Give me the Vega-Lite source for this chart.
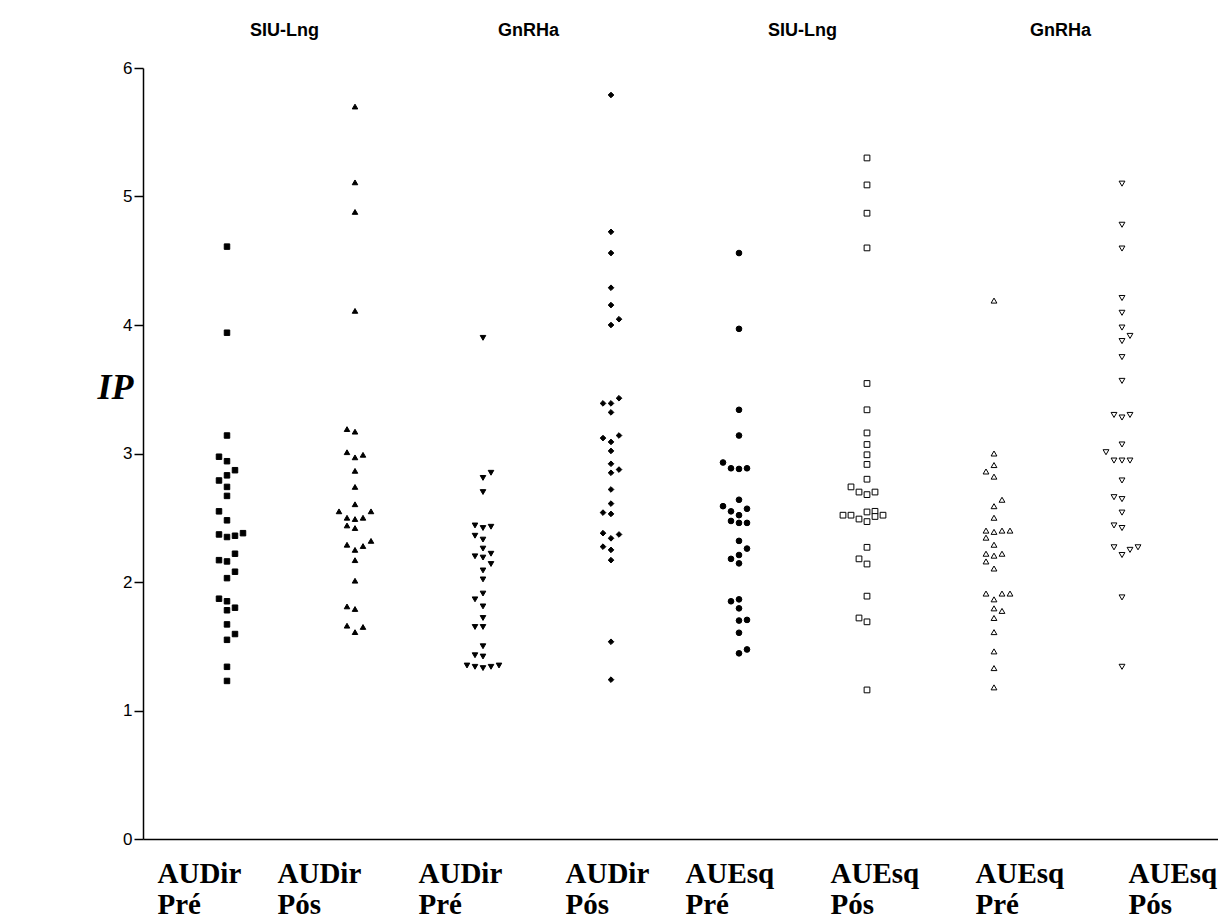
{
  "$schema": "https://vega.github.io/schema/vega-lite/v6.json",
  "autosize": "none",
  "width": 1075,
  "height": 771,
  "padding": {"left": 143, "top": 68, "right": 0, "bottom": 84},
  "background": "white",
  "config": {"view": {"stroke": null}},
  "data": {"values": [
    {"g":"AUDir Pré SIU","x":84,"ip":4.61},{"g":"AUDir Pré SIU","x":84,"ip":3.94},{"g":"AUDir Pré SIU","x":84,"ip":3.14},{"g":"AUDir Pré SIU","x":76,"ip":2.975},{"g":"AUDir Pré SIU","x":84,"ip":2.94},{"g":"AUDir Pré SIU","x":92,"ip":2.87},{"g":"AUDir Pré SIU","x":84,"ip":2.83},{"g":"AUDir Pré SIU","x":76,"ip":2.79},{"g":"AUDir Pré SIU","x":84,"ip":2.74},{"g":"AUDir Pré SIU","x":84,"ip":2.67},{"g":"AUDir Pré SIU","x":76,"ip":2.55},{"g":"AUDir Pré SIU","x":84,"ip":2.48},{"g":"AUDir Pré SIU","x":76,"ip":2.37},{"g":"AUDir Pré SIU","x":84,"ip":2.35},{"g":"AUDir Pré SIU","x":92,"ip":2.36},{"g":"AUDir Pré SIU","x":100,"ip":2.38},{"g":"AUDir Pré SIU","x":92,"ip":2.22},{"g":"AUDir Pré SIU","x":76,"ip":2.17},{"g":"AUDir Pré SIU","x":84,"ip":2.16},{"g":"AUDir Pré SIU","x":92,"ip":2.08},{"g":"AUDir Pré SIU","x":84,"ip":2.03},{"g":"AUDir Pré SIU","x":76,"ip":1.87},{"g":"AUDir Pré SIU","x":84,"ip":1.85},{"g":"AUDir Pré SIU","x":84,"ip":1.78},{"g":"AUDir Pré SIU","x":92,"ip":1.80},{"g":"AUDir Pré SIU","x":84,"ip":1.67},{"g":"AUDir Pré SIU","x":92,"ip":1.595},{"g":"AUDir Pré SIU","x":84,"ip":1.55},{"g":"AUDir Pré SIU","x":84,"ip":1.34},{"g":"AUDir Pré SIU","x":84,"ip":1.23},

    {"g":"AUDir Pós SIU","x":212,"ip":5.70},{"g":"AUDir Pós SIU","x":212,"ip":5.11},{"g":"AUDir Pós SIU","x":212,"ip":4.88},{"g":"AUDir Pós SIU","x":212,"ip":4.11},{"g":"AUDir Pós SIU","x":204,"ip":3.19},{"g":"AUDir Pós SIU","x":212,"ip":3.17},{"g":"AUDir Pós SIU","x":204,"ip":3.01},{"g":"AUDir Pós SIU","x":212,"ip":2.97},{"g":"AUDir Pós SIU","x":220,"ip":2.99},{"g":"AUDir Pós SIU","x":212,"ip":2.865},{"g":"AUDir Pós SIU","x":212,"ip":2.74},{"g":"AUDir Pós SIU","x":212,"ip":2.605},{"g":"AUDir Pós SIU","x":196,"ip":2.55},{"g":"AUDir Pós SIU","x":204,"ip":2.50},{"g":"AUDir Pós SIU","x":212,"ip":2.49},{"g":"AUDir Pós SIU","x":220,"ip":2.50},{"g":"AUDir Pós SIU","x":228,"ip":2.55},{"g":"AUDir Pós SIU","x":204,"ip":2.44},{"g":"AUDir Pós SIU","x":212,"ip":2.42},{"g":"AUDir Pós SIU","x":204,"ip":2.29},{"g":"AUDir Pós SIU","x":212,"ip":2.25},{"g":"AUDir Pós SIU","x":220,"ip":2.28},{"g":"AUDir Pós SIU","x":228,"ip":2.32},{"g":"AUDir Pós SIU","x":212,"ip":2.17},{"g":"AUDir Pós SIU","x":212,"ip":2.01},{"g":"AUDir Pós SIU","x":204,"ip":1.81},{"g":"AUDir Pós SIU","x":212,"ip":1.79},{"g":"AUDir Pós SIU","x":204,"ip":1.66},{"g":"AUDir Pós SIU","x":212,"ip":1.61},{"g":"AUDir Pós SIU","x":220,"ip":1.65},

    {"g":"AUDir Pré GnRHa","x":340,"ip":3.90},{"g":"AUDir Pré GnRHa","x":340,"ip":2.81},{"g":"AUDir Pré GnRHa","x":348,"ip":2.85},{"g":"AUDir Pré GnRHa","x":340,"ip":2.70},{"g":"AUDir Pré GnRHa","x":332,"ip":2.44},{"g":"AUDir Pré GnRHa","x":340,"ip":2.42},{"g":"AUDir Pré GnRHa","x":348,"ip":2.43},{"g":"AUDir Pré GnRHa","x":332,"ip":2.36},{"g":"AUDir Pré GnRHa","x":340,"ip":2.33},{"g":"AUDir Pré GnRHa","x":340,"ip":2.26},{"g":"AUDir Pré GnRHa","x":332,"ip":2.20},{"g":"AUDir Pré GnRHa","x":340,"ip":2.19},{"g":"AUDir Pré GnRHa","x":348,"ip":2.22},{"g":"AUDir Pré GnRHa","x":348,"ip":2.14},{"g":"AUDir Pré GnRHa","x":340,"ip":2.09},{"g":"AUDir Pré GnRHa","x":340,"ip":2.02},{"g":"AUDir Pré GnRHa","x":340,"ip":1.91},{"g":"AUDir Pré GnRHa","x":332,"ip":1.865},{"g":"AUDir Pré GnRHa","x":340,"ip":1.81},{"g":"AUDir Pré GnRHa","x":340,"ip":1.72},{"g":"AUDir Pré GnRHa","x":332,"ip":1.65},{"g":"AUDir Pré GnRHa","x":340,"ip":1.65},{"g":"AUDir Pré GnRHa","x":340,"ip":1.50},{"g":"AUDir Pré GnRHa","x":332,"ip":1.43},{"g":"AUDir Pré GnRHa","x":340,"ip":1.42},{"g":"AUDir Pré GnRHa","x":324,"ip":1.35},{"g":"AUDir Pré GnRHa","x":332,"ip":1.34},{"g":"AUDir Pré GnRHa","x":340,"ip":1.33},{"g":"AUDir Pré GnRHa","x":348,"ip":1.34},{"g":"AUDir Pré GnRHa","x":356,"ip":1.35},

    {"g":"AUDir Pós GnRHa","x":468,"ip":5.79},{"g":"AUDir Pós GnRHa","x":468,"ip":4.725},{"g":"AUDir Pós GnRHa","x":468,"ip":4.56},{"g":"AUDir Pós GnRHa","x":468,"ip":4.29},{"g":"AUDir Pós GnRHa","x":468,"ip":4.155},{"g":"AUDir Pós GnRHa","x":468,"ip":4.00},{"g":"AUDir Pós GnRHa","x":476,"ip":4.045},{"g":"AUDir Pós GnRHa","x":460,"ip":3.39},{"g":"AUDir Pós GnRHa","x":468,"ip":3.39},{"g":"AUDir Pós GnRHa","x":476,"ip":3.43},{"g":"AUDir Pós GnRHa","x":468,"ip":3.32},{"g":"AUDir Pós GnRHa","x":460,"ip":3.12},{"g":"AUDir Pós GnRHa","x":468,"ip":3.09},{"g":"AUDir Pós GnRHa","x":476,"ip":3.14},{"g":"AUDir Pós GnRHa","x":468,"ip":3.02},{"g":"AUDir Pós GnRHa","x":468,"ip":2.92},{"g":"AUDir Pós GnRHa","x":468,"ip":2.85},{"g":"AUDir Pós GnRHa","x":476,"ip":2.875},{"g":"AUDir Pós GnRHa","x":468,"ip":2.72},{"g":"AUDir Pós GnRHa","x":468,"ip":2.61},{"g":"AUDir Pós GnRHa","x":460,"ip":2.54},{"g":"AUDir Pós GnRHa","x":468,"ip":2.53},{"g":"AUDir Pós GnRHa","x":460,"ip":2.38},{"g":"AUDir Pós GnRHa","x":468,"ip":2.34},{"g":"AUDir Pós GnRHa","x":476,"ip":2.37},{"g":"AUDir Pós GnRHa","x":460,"ip":2.275},{"g":"AUDir Pós GnRHa","x":468,"ip":2.25},{"g":"AUDir Pós GnRHa","x":468,"ip":2.17},{"g":"AUDir Pós GnRHa","x":468,"ip":1.535},{"g":"AUDir Pós GnRHa","x":468,"ip":1.24},

    {"g":"AUEsq Pré SIU","x":596,"ip":4.56},{"g":"AUEsq Pré SIU","x":596,"ip":3.97},{"g":"AUEsq Pré SIU","x":596,"ip":3.34},{"g":"AUEsq Pré SIU","x":596,"ip":3.14},{"g":"AUEsq Pré SIU","x":580,"ip":2.93},{"g":"AUEsq Pré SIU","x":588,"ip":2.885},{"g":"AUEsq Pré SIU","x":596,"ip":2.88},{"g":"AUEsq Pré SIU","x":604,"ip":2.885},{"g":"AUEsq Pré SIU","x":596,"ip":2.64},{"g":"AUEsq Pré SIU","x":580,"ip":2.59},{"g":"AUEsq Pré SIU","x":588,"ip":2.55},{"g":"AUEsq Pré SIU","x":604,"ip":2.57},{"g":"AUEsq Pré SIU","x":596,"ip":2.52},{"g":"AUEsq Pré SIU","x":588,"ip":2.475},{"g":"AUEsq Pré SIU","x":596,"ip":2.46},{"g":"AUEsq Pré SIU","x":604,"ip":2.46},{"g":"AUEsq Pré SIU","x":596,"ip":2.32},{"g":"AUEsq Pré SIU","x":604,"ip":2.26},{"g":"AUEsq Pré SIU","x":596,"ip":2.21},{"g":"AUEsq Pré SIU","x":588,"ip":2.18},{"g":"AUEsq Pré SIU","x":596,"ip":2.145},{"g":"AUEsq Pré SIU","x":588,"ip":1.85},{"g":"AUEsq Pré SIU","x":596,"ip":1.865},{"g":"AUEsq Pré SIU","x":596,"ip":1.795},{"g":"AUEsq Pré SIU","x":596,"ip":1.70},{"g":"AUEsq Pré SIU","x":604,"ip":1.705},{"g":"AUEsq Pré SIU","x":596,"ip":1.605},{"g":"AUEsq Pré SIU","x":596,"ip":1.445},{"g":"AUEsq Pré SIU","x":604,"ip":1.475},

    {"g":"AUEsq Pós SIU","x":724,"ip":5.30},{"g":"AUEsq Pós SIU","x":724,"ip":5.09},{"g":"AUEsq Pós SIU","x":724,"ip":4.87},{"g":"AUEsq Pós SIU","x":724,"ip":4.60},{"g":"AUEsq Pós SIU","x":724,"ip":3.545},{"g":"AUEsq Pós SIU","x":724,"ip":3.34},{"g":"AUEsq Pós SIU","x":724,"ip":3.16},{"g":"AUEsq Pós SIU","x":724,"ip":3.07},{"g":"AUEsq Pós SIU","x":724,"ip":2.99},{"g":"AUEsq Pós SIU","x":724,"ip":2.915},{"g":"AUEsq Pós SIU","x":724,"ip":2.80},{"g":"AUEsq Pós SIU","x":708,"ip":2.74},{"g":"AUEsq Pós SIU","x":716,"ip":2.70},{"g":"AUEsq Pós SIU","x":724,"ip":2.68},{"g":"AUEsq Pós SIU","x":732,"ip":2.70},{"g":"AUEsq Pós SIU","x":700,"ip":2.52},{"g":"AUEsq Pós SIU","x":708,"ip":2.52},{"g":"AUEsq Pós SIU","x":716,"ip":2.49},{"g":"AUEsq Pós SIU","x":724,"ip":2.545},{"g":"AUEsq Pós SIU","x":724,"ip":2.47},{"g":"AUEsq Pós SIU","x":732,"ip":2.55},{"g":"AUEsq Pós SIU","x":732,"ip":2.51},{"g":"AUEsq Pós SIU","x":740,"ip":2.52},{"g":"AUEsq Pós SIU","x":724,"ip":2.27},{"g":"AUEsq Pós SIU","x":716,"ip":2.18},{"g":"AUEsq Pós SIU","x":724,"ip":2.14},{"g":"AUEsq Pós SIU","x":724,"ip":1.89},{"g":"AUEsq Pós SIU","x":716,"ip":1.72},{"g":"AUEsq Pós SIU","x":724,"ip":1.69},{"g":"AUEsq Pós SIU","x":724,"ip":1.16},

    {"g":"AUEsq Pré GnRHa","x":851,"ip":4.19},{"g":"AUEsq Pré GnRHa","x":851,"ip":3.00},{"g":"AUEsq Pré GnRHa","x":851,"ip":2.91},{"g":"AUEsq Pré GnRHa","x":843,"ip":2.86},{"g":"AUEsq Pré GnRHa","x":851,"ip":2.82},{"g":"AUEsq Pré GnRHa","x":859,"ip":2.64},{"g":"AUEsq Pré GnRHa","x":851,"ip":2.59},{"g":"AUEsq Pré GnRHa","x":851,"ip":2.50},{"g":"AUEsq Pré GnRHa","x":843,"ip":2.40},{"g":"AUEsq Pré GnRHa","x":851,"ip":2.39},{"g":"AUEsq Pré GnRHa","x":859,"ip":2.40},{"g":"AUEsq Pré GnRHa","x":867,"ip":2.40},{"g":"AUEsq Pré GnRHa","x":843,"ip":2.345},{"g":"AUEsq Pré GnRHa","x":851,"ip":2.29},{"g":"AUEsq Pré GnRHa","x":843,"ip":2.22},{"g":"AUEsq Pré GnRHa","x":851,"ip":2.205},{"g":"AUEsq Pré GnRHa","x":859,"ip":2.22},{"g":"AUEsq Pré GnRHa","x":843,"ip":2.16},{"g":"AUEsq Pré GnRHa","x":851,"ip":2.105},{"g":"AUEsq Pré GnRHa","x":843,"ip":1.91},{"g":"AUEsq Pré GnRHa","x":851,"ip":1.865},{"g":"AUEsq Pré GnRHa","x":859,"ip":1.91},{"g":"AUEsq Pré GnRHa","x":867,"ip":1.91},{"g":"AUEsq Pré GnRHa","x":851,"ip":1.795},{"g":"AUEsq Pré GnRHa","x":859,"ip":1.775},{"g":"AUEsq Pré GnRHa","x":851,"ip":1.72},{"g":"AUEsq Pré GnRHa","x":851,"ip":1.61},{"g":"AUEsq Pré GnRHa","x":851,"ip":1.46},{"g":"AUEsq Pré GnRHa","x":851,"ip":1.33},{"g":"AUEsq Pré GnRHa","x":851,"ip":1.18},

    {"g":"AUEsq Pós GnRHa","x":979,"ip":5.10},{"g":"AUEsq Pós GnRHa","x":979,"ip":4.78},{"g":"AUEsq Pós GnRHa","x":979,"ip":4.595},{"g":"AUEsq Pós GnRHa","x":979,"ip":4.21},{"g":"AUEsq Pós GnRHa","x":979,"ip":4.095},{"g":"AUEsq Pós GnRHa","x":979,"ip":3.98},{"g":"AUEsq Pós GnRHa","x":979,"ip":3.875},{"g":"AUEsq Pós GnRHa","x":987,"ip":3.915},{"g":"AUEsq Pós GnRHa","x":979,"ip":3.75},{"g":"AUEsq Pós GnRHa","x":979,"ip":3.565},{"g":"AUEsq Pós GnRHa","x":971,"ip":3.30},{"g":"AUEsq Pós GnRHa","x":979,"ip":3.28},{"g":"AUEsq Pós GnRHa","x":987,"ip":3.30},{"g":"AUEsq Pós GnRHa","x":979,"ip":3.07},{"g":"AUEsq Pós GnRHa","x":963,"ip":3.01},{"g":"AUEsq Pós GnRHa","x":971,"ip":2.945},{"g":"AUEsq Pós GnRHa","x":979,"ip":2.945},{"g":"AUEsq Pós GnRHa","x":987,"ip":2.945},{"g":"AUEsq Pós GnRHa","x":979,"ip":2.79},{"g":"AUEsq Pós GnRHa","x":971,"ip":2.66},{"g":"AUEsq Pós GnRHa","x":979,"ip":2.645},{"g":"AUEsq Pós GnRHa","x":979,"ip":2.54},{"g":"AUEsq Pós GnRHa","x":971,"ip":2.44},{"g":"AUEsq Pós GnRHa","x":979,"ip":2.42},{"g":"AUEsq Pós GnRHa","x":971,"ip":2.27},{"g":"AUEsq Pós GnRHa","x":979,"ip":2.21},{"g":"AUEsq Pós GnRHa","x":987,"ip":2.25},{"g":"AUEsq Pós GnRHa","x":995,"ip":2.27},{"g":"AUEsq Pós GnRHa","x":979,"ip":1.88},{"g":"AUEsq Pós GnRHa","x":979,"ip":1.34}
  ]},
  "resolve": {"axis": {"x": "independent"}},
  "layer": [
    {
      "mark": {"type": "point", "stroke": "black", "strokeWidth": 1, "opacity": 1},
      "encoding": {
        "x": {
          "field": "x", "type": "quantitative",
          "scale": {"domain": [0, 1075], "nice": false, "zero": false},
          "axis": {
            "orient": "bottom", "title": null, "grid": false, "ticks": false,
            "domainColor": "black", "domainWidth": 1.5,
            "values": [14, 134, 275, 422, 542, 687, 832, 985],
            "labelExpr": "datum.value < 50 ? ['AUDir','Pré'] : datum.value < 200 ? ['AUDir','Pós'] : datum.value < 350 ? ['AUDir','Pré'] : datum.value < 480 ? ['AUDir','Pós'] : datum.value < 600 ? ['AUEsq','Pré'] : datum.value < 750 ? ['AUEsq','Pós'] : datum.value < 900 ? ['AUEsq','Pré'] : ['AUEsq','Pós']",
            "labelFont": "Liberation Serif", "labelFontWeight": "bold", "labelFontSize": 29,
            "labelColor": "black", "labelAlign": "left", "labelBaseline": "alphabetic",
            "labelPadding": 43, "labelLineHeight": 31,
            "labelOverlap": false, "labelBound": false, "labelFlush": false
          }
        },
        "y": {
          "field": "ip", "type": "quantitative",
          "scale": {"domain": [0, 6], "nice": false, "zero": true},
          "axis": {
            "title": "IP", "grid": false, "values": [0, 1, 2, 3, 4, 5, 6],
            "domainColor": "black", "domainWidth": 1.5,
            "tickColor": "black", "tickWidth": 1.5, "tickSize": 9,
            "labelFont": "Liberation Sans", "labelFontSize": 17, "labelColor": "black",
            "labelPadding": 2,
            "titleFont": "Liberation Serif", "titleFontStyle": "italic", "titleFontWeight": "bold",
            "titleFontSize": 36, "titleColor": "black", "titleAngle": 0,
            "titleAlign": "left", "titleBaseline": "alphabetic", "titleX": -46, "titleY": 330
          }
        },
        "shape": {
          "field": "g", "type": "nominal", "legend": null,
          "scale": {
            "domain": ["AUDir Pré SIU", "AUDir Pós SIU", "AUDir Pré GnRHa", "AUDir Pós GnRHa", "AUEsq Pré SIU", "AUEsq Pós SIU", "AUEsq Pré GnRHa", "AUEsq Pós GnRHa"],
            "range": ["square", "triangle-up", "triangle-down", "diamond", "circle", "square", "triangle-up", "triangle-down"]
          }
        },
        "fill": {
          "field": "g", "type": "nominal", "legend": null,
          "scale": {
            "domain": ["AUDir Pré SIU", "AUDir Pós SIU", "AUDir Pré GnRHa", "AUDir Pós GnRHa", "AUEsq Pré SIU", "AUEsq Pós SIU", "AUEsq Pré GnRHa", "AUEsq Pós GnRHa"],
            "range": ["black", "black", "black", "black", "black", "white", "white", "white"]
          }
        },
        "size": {
          "field": "g", "type": "nominal", "legend": null,
          "scale": {
            "domain": ["AUDir Pré SIU", "AUDir Pós SIU", "AUDir Pré GnRHa", "AUDir Pós GnRHa", "AUEsq Pré SIU", "AUEsq Pós SIU", "AUEsq Pré GnRHa", "AUEsq Pós GnRHa"],
            "range": [30, 34, 30, 30, 24, 38, 28, 28]
          }
        }
      }
    },
    {
      "mark": {"type": "point", "opacity": 0},
      "encoding": {
        "x": {
          "field": "x", "type": "quantitative",
          "axis": {
            "orient": "top", "title": null, "grid": false, "ticks": false, "domain": false,
            "values": [141, 385, 659, 917],
            "labelExpr": "datum.value < 300 ? 'SIU-Lng' : datum.value < 500 ? 'GnRHa' : datum.value < 800 ? 'SIU-Lng' : 'GnRHa'",
            "labelFont": "Liberation Sans", "labelFontWeight": "bold", "labelFontSize": 18,
            "labelColor": "black", "labelAlign": "center", "labelBaseline": "alphabetic",
            "labelPadding": 33, "labelOverlap": false, "labelBound": false, "labelFlush": false
          }
        }
      }
    }
  ]
}
